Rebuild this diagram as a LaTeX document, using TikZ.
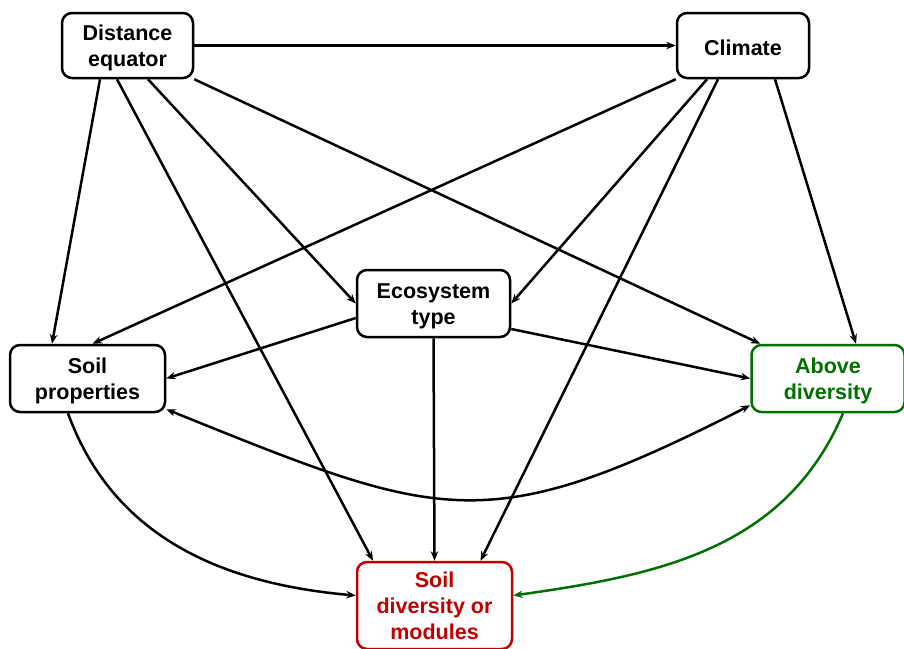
\documentclass[tikz,border=0pt]{standalone}
\usepackage{fontspec}
\setmainfont{Liberation Sans}
\usetikzlibrary{
  arrows.meta,
  positioning
}
\usepackage{xcolor}
\definecolor{aboveGreen}{rgb}{0,0.44,0}
\definecolor{soilRed}{rgb}{0.75,0,0}
\newcommand{\topgap}{\rule{0pt}{21pt}}
\tikzset{
  factor/.style={
    rectangle,
    rounded corners=10pt,
    draw,
    line width=2.5pt,
    align=center,
    inner sep=0pt,
    font=\fontsize{21.5}{26}\selectfont\bfseries
  }
}
\tikzset{
  link/.style={
    ->,
    line width=2.5pt
  }
}
\begin{document}
\begin{tikzpicture}[x=1pt, y=-1pt, >={Stealth[length=9.5pt,width=7.5pt]}]
    \useasboundingbox (0,0) rectangle (904,648);

    \node[factor, minimum width=131pt, minimum height=65pt] (dist)
      at (127.5,45.5) {\topgap Distance\\equator};
    \node[factor, minimum width=132pt, minimum height=65pt] (climate)
      at (743,45.5) {\topgap Climate};
    \node[factor, minimum width=153pt, minimum height=67pt] (eco)
      at (433.5,303.5) {\topgap Ecosystem\\type};
    \node[factor, minimum width=155pt, minimum height=67pt] (soilprop)
      at (87.5,378.5) {\topgap Soil\\properties};
    \node[factor, minimum width=153pt, minimum height=67pt, draw=aboveGreen,
      text=aboveGreen] (above) at (828,378.5) {\topgap Above\\diversity};
    \node[factor, minimum width=155pt, minimum height=87pt, draw=soilRed,
      text=soilRed] (soildiv) at (434.5,605.5) {Soil\\diversity or\\modules};

    % straight links
    \draw[link] (dist.east) -- (climate.west);
    \draw[link] ([xshift=-27.5pt]dist.south) -- ([xshift=-35.5pt]soilprop.north);
    \draw[link] ([xshift=-10.5pt]dist.south) -- ([xshift=-61.5pt]soildiv.north);
    \draw[link] ([xshift=20.5pt]dist.south) -- (eco.west);
    \draw[link] (dist.south east) -- ([xshift=10pt]above.north west);
    \draw[link] (climate.south west) -- ([xshift=5pt]soilprop.north);
    \draw[link] ([xshift=-36pt]climate.south) -- (eco.east);
    \draw[link] ([xshift=-25pt]climate.south) -- ([xshift=46pt]soildiv.north);
    \draw[link] ([xshift=32pt]climate.south) -- ([xshift=28pt]above.north);
    \draw[link] ([yshift=-14.5pt]eco.west) -- (soilprop.east);
    \draw[link] ([yshift=-25.5pt]eco.east) -- (above.west);
    \draw[link] (eco.south) -- (soildiv.north);

    % curved links
    \draw[link, <->] ([yshift=4pt]soilprop.south east)
      to[out=-22, in=-153, looseness=1.3] ([yshift=8pt]above.south west);
    \draw[link] ([xshift=-19.5pt]soilprop.south)
      to[out=-70, in=175] ([yshift=10pt]soildiv.west);
    \draw[link, aboveGreen] ([xshift=15pt]above.south)
      to[out=-113, in=8] ([yshift=10pt]soildiv.east);
  \end{tikzpicture}
\end{document}
